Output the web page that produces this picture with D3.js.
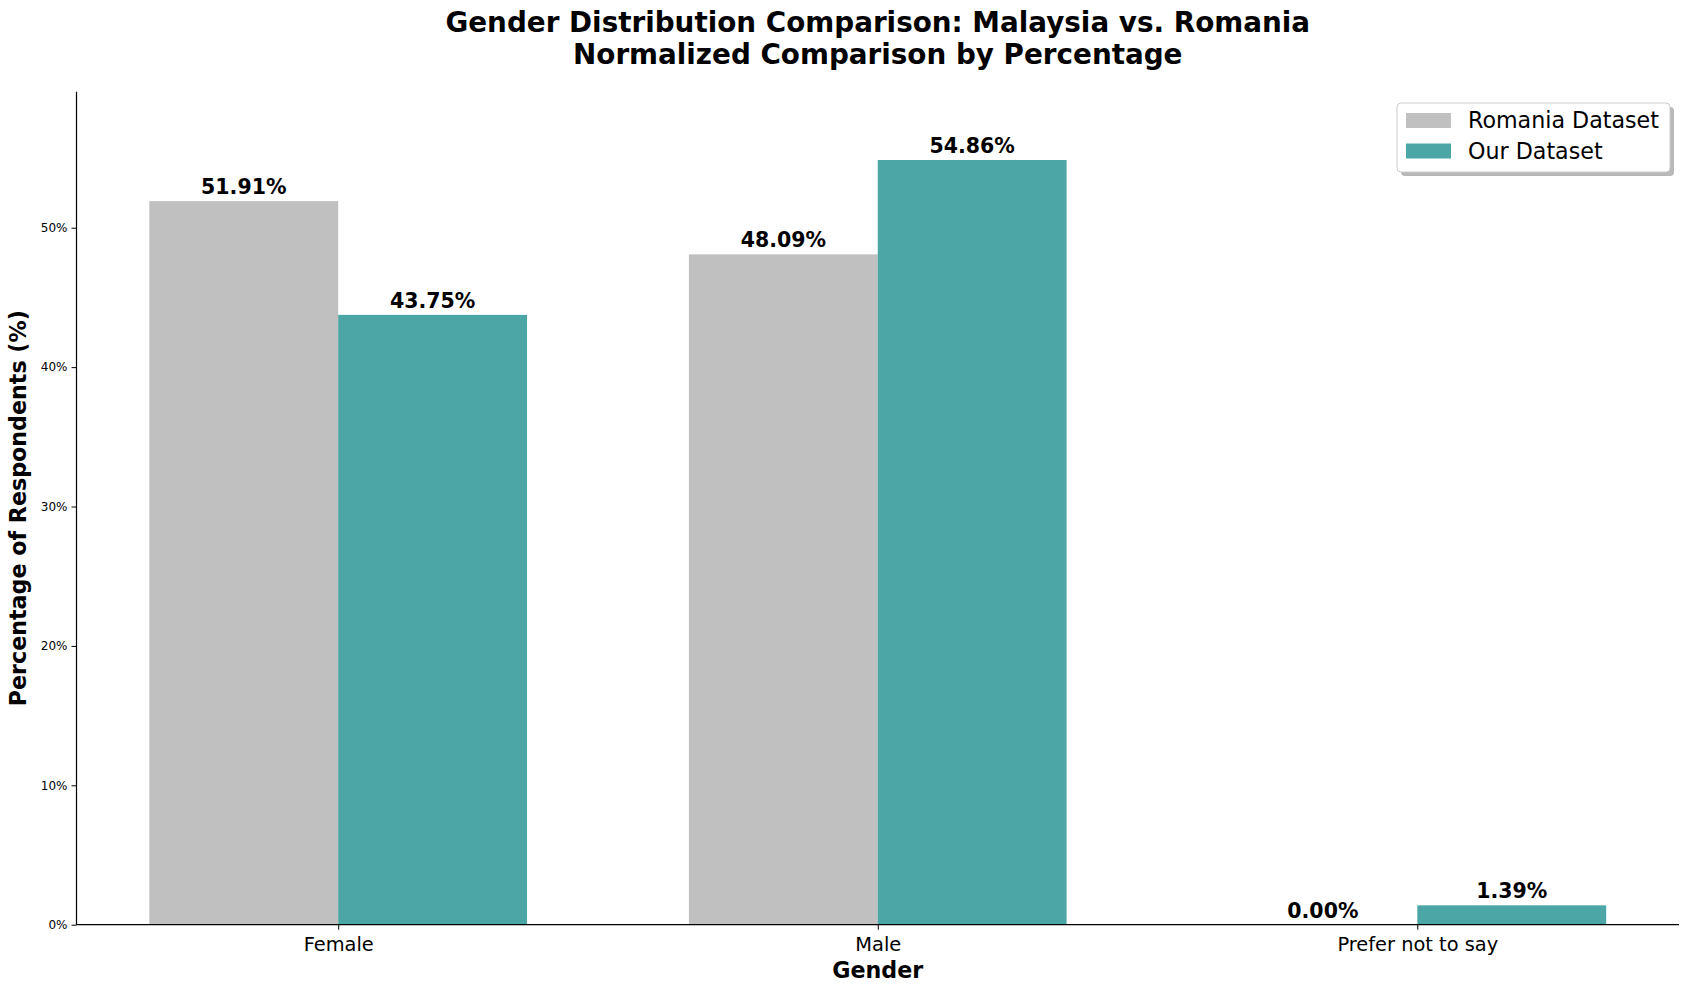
<!DOCTYPE html>
<html>
<head>
<meta charset="utf-8">
<script src="https://cdn.jsdelivr.net/npm/d3@7"></script>
<style>
  body { margin: 0; background: #fff; }
  svg { font-family: "DejaVu Sans", sans-serif; }
</style>
</head>
<body>
<div id="chart"></div>
<script>
const categories = ["Female", "Male", "Prefer not to say"];
const romaniaValues = [51.91, 48.09, 0.00];
const ourValues = [43.75, 54.86, 1.39];
const seriesNames = ["Romania Dataset", "Our Dataset"];
const yTicks = [0, 10, 20, 30, 40, 50];

const width = 1690;
const height = 989;
const margin = { top: 91.7, bottom: 64.3, left: 76.5, right: 11 };
const colors = ["#c0c0c0", "#4ca6a6"];
const barW = 0.35;

const svg = d3.select("#chart")
  .append("svg")
  .attr("width", width)
  .attr("height", height);

const x = d3.scaleLinear()
  .domain([-0.485, 2.485])
  .range([margin.left, width - margin.right]);

const y = d3.scaleLinear()
  .domain([0, 59.76])
  .range([height - margin.bottom, margin.top]);

const series = [romaniaValues, ourValues];

series.forEach((vals, s) => {
  const off = s === 0 ? -barW : 0;
  const g = svg.append("g").attr("fill", colors[s]);
  g.selectAll("rect")
    .data(vals)
    .join("rect")
      .attr("x", (d, i) => x(i + off))
      .attr("y", d => y(d))
      .attr("width", x(barW) - x(0))
      .attr("height", d => y(0) - y(d));

  svg.append("g")
    .selectAll("text")
    .data(vals)
    .join("text")
      .attr("x", (d, i) => x(i + off + barW / 2))
      .attr("y", d => y(d) - 7)
      .attr("text-anchor", "middle")
      .attr("font-size", "20.5px")
      .attr("font-weight", "bold")
      .text(d => d.toFixed(2) + "%");
});

// axes
function xAxis(g) {
  g.attr("transform", `translate(0,${height - margin.bottom})`)
    .call(d3.axisBottom(x).tickValues([0, 1, 2]).tickFormat(i => categories[i]).tickSize(5).tickPadding(8))
    .call(g => g.select(".domain").attr("d", `M${margin.left},0H${width - margin.right}`).attr("stroke-width", 1.2))
    .attr("font-size", "19.4px")
    .attr("font-family", "DejaVu Sans");
}

function yAxis(g) {
  g.attr("transform", `translate(${margin.left},0)`)
    .call(d3.axisLeft(y).tickValues(yTicks).tickFormat(d => d + "%").tickSize(5).tickPadding(4))
    .call(g => g.select(".domain").attr("d", `M0,${margin.top}V${height - margin.bottom}`).attr("stroke-width", 1.2))
    .attr("font-size", "12px")
    .attr("font-family", "DejaVu Sans");
}

svg.append("g").call(xAxis);
svg.append("g").call(yAxis);

// titles
svg.append("text")
  .attr("x", (margin.left + width - margin.right) / 2)
  .attr("y", 32)
  .attr("text-anchor", "middle")
  .attr("font-size", "27.8px")
  .attr("font-weight", "bold")
  .text("Gender Distribution Comparison: Malaysia vs. Romania");

svg.append("text")
  .attr("x", (margin.left + width - margin.right) / 2)
  .attr("y", 64)
  .attr("text-anchor", "middle")
  .attr("font-size", "27.8px")
  .attr("font-weight", "bold")
  .text("Normalized Comparison by Percentage");

svg.append("text")
  .attr("x", (margin.left + width - margin.right) / 2)
  .attr("y", 978)
  .attr("text-anchor", "middle")
  .attr("font-size", "22.2px")
  .attr("font-weight", "bold")
  .text("Gender");

svg.append("text")
  .attr("transform", `translate(26,${(margin.top + height - margin.bottom) / 2}) rotate(-90)`)
  .attr("text-anchor", "middle")
  .attr("font-size", "22.2px")
  .attr("font-weight", "bold")
  .text("Percentage of Respondents (%)");

// legend
const lg = svg.append("g").attr("transform", "translate(1397,103)");
lg.append("rect")
  .attr("x", 4).attr("y", 4)
  .attr("width", 273).attr("height", 69)
  .attr("rx", 4)
  .attr("fill", "#888")
  .attr("opacity", 0.6);
lg.append("rect")
  .attr("width", 273).attr("height", 69)
  .attr("rx", 4)
  .attr("fill", "#fff")
  .attr("stroke", "#ccc");
seriesNames.forEach((name, i) => {
  lg.append("rect")
    .attr("x", 9).attr("y", 10 + i * 30.5)
    .attr("width", 45).attr("height", 15)
    .attr("fill", colors[i]);
  lg.append("text")
    .attr("x", 71).attr("y", 25 + i * 30.5)
    .attr("font-size", "22.2px")
    .text(name);
});
</script>
</body>
</html>
